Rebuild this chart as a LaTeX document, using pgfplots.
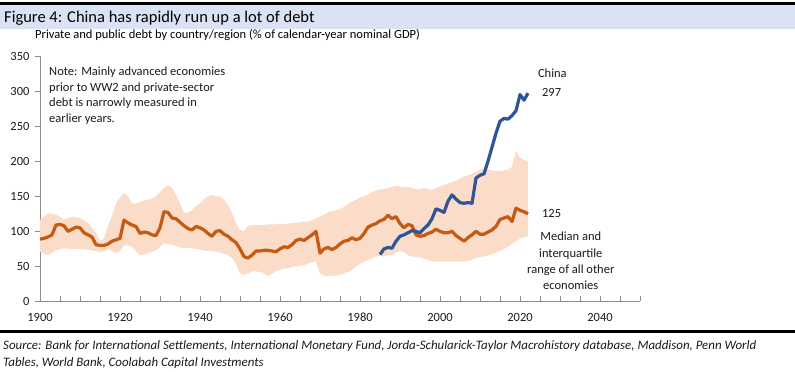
\documentclass[border=0pt]{standalone}
\usepackage{pgfplots}
\pgfplotsset{compat=1.18}
\usepackage{pgfplotstable}
\usepgfplotslibrary{fillbetween}
\usepackage{fontspec}
\setmainfont{Carlito}
\definecolor{medorange}{HTML}{C55A11}
\definecolor{chinablue}{HTML}{2F5597}
\definecolor{bandfill}{HTML}{FADCC9}
\definecolor{titlebar}{HTML}{DAE3F3}
\definecolor{axisgray}{HTML}{8C8C8C}
\definecolor{txt}{HTML}{1A1A1A}

\pgfplotstableread{
year upper lower
1900 116 71
1902 126 66
1904 124 73
1906 117 76
1908 121 75
1910 119 75
1912 112 74
1914 98 72
1915 86 70
1916 90 72
1917 108 75
1918 122 72
1919 140 69
1920 148 72
1921 155 80
1922 150 80
1923 140 78
1924 140 72
1925 142 66
1926 144 67
1927 145 69
1928 147 71
1929 150 73
1930 156 78
1931 162 83
1932 166 82
1933 162 81
1934 152 79
1935 140 77
1936 127 76
1937 127 76
1938 130 76
1939 136 75
1940 140 74
1941 146 73
1942 150 72
1943 152 72
1944 150 71
1945 150 70
1946 145 68
1947 138 66
1948 126 62
1949 112 54
1950 102 40
1951 100 38
1952 108 40
1953 109 43
1954 109 43
1955 109 42
1956 109 40
1957 110 36
1958 110 40
1959 110 43
1960 111 45
1961 110 47
1962 111 47
1963 112 49
1964 112 50
1965 113 51
1966 114 52
1967 114 54
1968 116 56
1969 118 57
1970 121 40
1971 124 37
1972 127 36
1973 129 37
1974 130 37
1975 131 38
1976 135 40
1977 139 42
1978 142 45
1979 145 50
1980 148 54
1981 150 57
1982 152 59
1983 156 62
1984 158 64
1985 160 65
1986 160 64
1987 162 66
1988 163 66
1989 165 70
1990 164 72
1991 163 70
1992 163 66
1993 162 64
1994 160 63
1995 160 63
1996 162 61
1997 160 59
1998 159 57
1999 162 57
2000 164 57
2001 166 57
2002 168 57
2003 170 57
2004 172 57
2005 175 57
2006 178 57
2007 180 58
2008 182 60
2009 185 62
2010 188 63
2011 190 64
2012 188 66
2013 187 68
2014 186 70
2015 186 72
2016 187 75
2017 188 78
2018 192 82
2019 215 86
2020 205 90
2021 202 92
2022 200 93
}\bandtable

\pgfplotstableread{
year median
1900 89
1901 90
1902 92
1903 95
1904 109
1905 110
1906 108
1907 100
1908 103
1909 106
1910 105
1911 98
1912 95
1913 92
1914 81
1915 80
1916 80
1917 82
1918 86
1919 88
1920 90
1921 116
1922 112
1923 109
1924 107
1925 97
1926 99
1927 98
1928 95
1929 94
1930 105
1931 128
1932 127
1933 119
1934 118
1935 113
1936 108
1937 104
1938 102
1939 107
1940 105
1941 102
1942 97
1943 93
1944 100
1945 101
1946 96
1947 93
1948 88
1949 84
1950 75
1951 64
1952 62
1953 66
1954 72
1955 72
1956 73
1957 73
1958 72
1959 71
1960 75
1961 78
1962 77
1963 81
1964 87
1965 89
1966 87
1967 91
1968 95
1969 100
1970 69
1971 75
1972 77
1973 74
1974 77
1975 82
1976 86
1977 87
1978 91
1979 88
1980 90
1981 97
1982 106
1983 109
1984 111
1985 115
1986 117
1987 123
1988 118
1989 121
1990 111
1991 105
1992 110
1993 108
1994 95
1995 93
1996 94
1997 97
1998 99
1999 103
2000 100
2001 98
2002 98
2003 100
2004 94
2005 90
2006 86
2007 91
2008 95
2009 100
2010 96
2011 96
2012 99
2013 102
2014 107
2015 117
2016 119
2017 121
2018 114
2019 133
2020 130
2021 128
2022 125
}\mediantable

\pgfplotstableread{
year china
1985 67
1986 75
1987 77
1988 76
1989 86
1990 93
1991 95
1992 98
1993 101
1994 100
1995 98
1996 104
1997 109
1998 118
1999 132
2000 130
2001 127
2002 143
2003 152
2004 146
2005 141
2006 140
2007 141
2008 140
2009 176
2010 180
2011 182
2012 200
2013 220
2014 240
2015 257
2016 261
2017 260
2018 265
2019 272
2020 295
2021 287
2022 297
}\chinatable

\begin{document}
\begin{tikzpicture}
% title bar
\fill[titlebar] (0pt,343pt) rectangle (795pt,367pt);
\draw[black,line width=2.5pt] (0pt,368.5pt) -- (795pt,368.5pt);
\node[anchor=base west,inner sep=0pt,font=\fontsize{16.5}{19}\selectfont,text=black] at (4pt,349.5pt) {Figure 4: China has rapidly run up a lot of debt};
\node[anchor=base west,inner sep=0pt,font=\fontsize{12.5}{15}\selectfont,text=black] at (35pt,333pt) {Private and public debt by country/region (\% of calendar-year nominal GDP)};

\begin{axis}[
  at={(40pt,70.5pt)}, anchor=south west,
  width=600pt, height=245.5pt, scale only axis,
  xmin=1900, xmax=2050, ymin=0, ymax=350,
  axis x line*=bottom, axis y line*=left,
  axis line style={axisgray,line width=0.8pt},
  xtick={1900,1920,...,2040},
  minor xtick={1900,1905,...,2050},
  ytick={0,50,...,350},
  tick align=inside,
  x tick style={axisgray,line width=0.8pt},
  y tick style={axisgray,line width=0.8pt,xshift=-5pt},
  major tick length=5pt, minor tick length=5pt,
  x tick label style={yshift=-8pt},
  y tick label style={xshift=-7pt},
  /pgf/number format/1000 sep={},
  /pgf/number format/assume math mode=true,
  tick label style={font=\fontsize{12.5}{15}\selectfont,text=txt},
  clip=false,
]
\addplot[name path=upper,draw=none,forget plot] table[x=year,y=upper]{\bandtable};
\addplot[name path=lower,draw=none,forget plot] table[x=year,y=lower]{\bandtable};
\addplot[bandfill,draw=none] fill between[of=upper and lower];
\addplot[medorange,line width=3.2pt,line join=round] table[x=year,y=median]{\mediantable};
\addplot[chinablue,line width=3.2pt,line join=round] table[x=year,y=china]{\chinatable};

\node[anchor=base west,inner sep=0pt,font=\fontsize{12.5}{15}\selectfont,text=txt] at (axis cs:1902.25,322.1) {Note: Mainly advanced economies};
\node[anchor=base west,inner sep=0pt,font=\fontsize{12.5}{15}\selectfont,text=txt] at (axis cs:1902.25,299.7) {prior to WW2 and private-sector};
\node[anchor=base west,inner sep=0pt,font=\fontsize{12.5}{15}\selectfont,text=txt] at (axis cs:1902.25,278) {debt is narrowly measured in};
\node[anchor=base west,inner sep=0pt,font=\fontsize{12.5}{15}\selectfont,text=txt] at (axis cs:1902.25,255.4) {earlier years.};
\node[anchor=base,inner sep=0pt,font=\fontsize{12.5}{15}\selectfont,text=txt] at (axis cs:2028.1,318.9) {China};
\node[anchor=base,inner sep=0pt,font=\fontsize{12.5}{15}\selectfont,text=txt] at (axis cs:2027.9,291.7) {297};
\node[anchor=base,inner sep=0pt,font=\fontsize{12.5}{15}\selectfont,text=txt] at (axis cs:2027.9,119.7) {125};
\node[anchor=base,inner sep=0pt,font=\fontsize{12.5}{15}\selectfont,text=txt] at (axis cs:2032.7,86.9) {Median and};
\node[anchor=base,inner sep=0pt,font=\fontsize{12.5}{15}\selectfont,text=txt] at (axis cs:2032.7,63.1) {interquartile};
\node[anchor=base,inner sep=0pt,font=\fontsize{12.5}{15}\selectfont,text=txt] at (axis cs:2032.7,40.2) {range of all other};
\node[anchor=base,inner sep=0pt,font=\fontsize{12.5}{15}\selectfont,text=txt] at (axis cs:2032.7,17.4) {economies};
\end{axis}

\draw[black,line width=2.8pt] (0pt,40.5pt) -- (795pt,40.5pt);
\node[anchor=base west,inner sep=0pt,font=\fontsize{12.9}{15}\selectfont\itshape,text=txt] at (3pt,22pt) {Source: Bank for International Settlements, International Monetary Fund, Jorda-Schularick-Taylor Macrohistory database, Maddison, Penn World};
\node[anchor=base west,inner sep=0pt,font=\fontsize{12.9}{15}\selectfont\itshape,text=txt] at (3pt,5.3pt) {Tables, World Bank, Coolabah Capital Investments};
\pgfresetboundingbox
\path[use as bounding box] (0pt,0pt) rectangle (795pt,372pt);
\end{tikzpicture}
\end{document}
